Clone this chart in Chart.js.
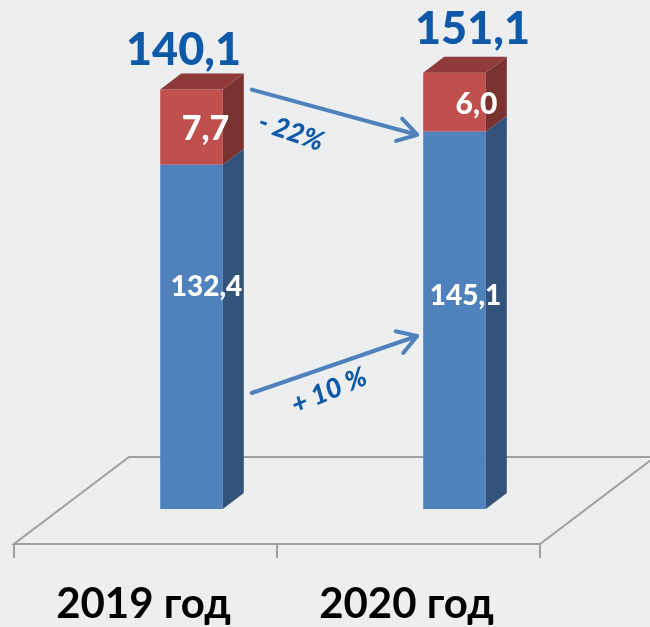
<!DOCTYPE html>
<html>
<head>
<meta charset="utf-8">
<script src="https://cdn.jsdelivr.net/npm/chart.js@4/dist/chart.umd.min.js"></script>
<style>
  html, body { margin: 0; padding: 0; background: #EDEEF0; }
  #wrap { width: 650px; height: 627px; }
</style>
</head>
<body>
<div id="wrap"><canvas id="c" width="650" height="627"></canvas></div>
<script>
// ---- data ----
const categories = ["2019 год", "2020 год"];
const blueValues = [132.4, 145.1];          // main segment
const redValues = [7.7, 6.0];               // top segment, as labelled
const redDrawnHeights = [28.9, 22.7];       // top segment height as drawn in the reference (not to scale there)
const totalValues = [140.1, 151.1];
const totalLabels = ["140,1", "151,1"];
const blueLabels = ["132,4", "145,1"];
const redLabels = ["7,7", "6,0"];
const changeLabels = ["- 22%", "+ 10 %"];

const FONT = "Lato, 'Open Sans', sans-serif";
const DX = 21, DY = -16;           // 3D depth offset of bars
const FLOOR_DX = 115, FLOOR_DY = -87;

const blueFront = "#4F81BD", blueSide = "#33537B";
const redFront = "#C0504D", redSide = "#7A3230", redTop = "#8E3B39";
const labelBlue = "#0F5AA8";

function poly(ctx, pts, fill) {
  ctx.beginPath();
  ctx.moveTo(pts[0][0], pts[0][1]);
  for (let i = 1; i < pts.length; i++) ctx.lineTo(pts[i][0], pts[i][1]);
  ctx.closePath();
  ctx.fillStyle = fill;
  ctx.fill();
}

function arrow(ctx, x1, y1, x2, y2) {
  ctx.save();
  ctx.strokeStyle = "#4F81BD";
  ctx.lineWidth = 4;
  ctx.lineCap = "round";
  ctx.lineJoin = "round";
  ctx.beginPath();
  ctx.moveTo(x1, y1);
  ctx.lineTo(x2, y2);
  const a = Math.atan2(y2 - y1, x2 - x1);
  const L = 22, sp = 0.55;
  ctx.moveTo(x2 - L * Math.cos(a - sp), y2 - L * Math.sin(a - sp));
  ctx.lineTo(x2, y2);
  ctx.lineTo(x2 - L * Math.cos(a + sp), y2 - L * Math.sin(a + sp));
  ctx.stroke();
  ctx.restore();
}

function rotText(ctx, txt, x, y, ang, font, color) {
  ctx.save();
  ctx.translate(x, y);
  ctx.rotate(ang);
  ctx.font = font;
  ctx.fillStyle = color;
  ctx.textAlign = "center";
  ctx.textBaseline = "middle";
  ctx.fillText(txt, 0, 0);
  ctx.restore();
}

const deco = {
  id: "deco",
  beforeDatasetsDraw(chart) {
    const ctx = chart.ctx;
    const xs = chart.scales.x, ys = chart.scales.y;
    const y0 = ys.getPixelForValue(0) + 35;
    const fl = xs.left - 46, fr = xs.right - 46;
    ctx.save();
    ctx.strokeStyle = "#A0A0A0";
    ctx.lineWidth = 2;
    ctx.beginPath();
    ctx.moveTo(fl, y0);
    ctx.lineTo(fr, y0);
    ctx.lineTo(fr + FLOOR_DX, y0 + FLOOR_DY);
    ctx.lineTo(fl + FLOOR_DX, y0 + FLOOR_DY);
    ctx.closePath();
    ctx.stroke();
    // ticks
    const mid = (fl + fr) / 2;
    [fl, mid, fr].forEach(x => {
      ctx.beginPath();
      ctx.moveTo(x, y0);
      ctx.lineTo(x, y0 + 14);
      ctx.stroke();
    });
    // category labels
    ctx.fillStyle = "#000";
    ctx.font = "bold 42px " + FONT;
    ctx.textAlign = "center";
    ctx.textBaseline = "alphabetic";
    categories.forEach((c, i) => {
      ctx.fillText(c, xs.getPixelForValue(i) - 48, y0 + 74);
    });
    ctx.restore();
  },
  afterDatasetsDraw(chart) {
    const ctx = chart.ctx;
    const mb = chart.getDatasetMeta(0).data;
    const mr = chart.getDatasetMeta(1).data;
    ctx.save();
    for (let i = 0; i < mb.length; i++) {
      const b = mb[i], r = mr[i];
      const bw = b.width;
      const L = b.x - bw / 2, R = b.x + bw / 2;
      // blue side
      poly(ctx, [[R, b.base], [R + DX, b.base + DY], [R + DX, b.y + DY], [R, b.y]], blueSide);
      // red side
      poly(ctx, [[R, r.base], [R + DX, r.base + DY], [R + DX, r.y + DY], [R, r.y]], redSide);
      // red top
      poly(ctx, [[L, r.y], [L + DX, r.y + DY], [R + DX, r.y + DY], [R, r.y]], redTop);
    }
    // labels
    ctx.textAlign = "center";
    ctx.textBaseline = "alphabetic";
    const totOff = [[-8, -9], [18, -13]];
    const redOff = [[14, 0], [22, 0]];
    const redFont = [34, 30];
    const blueOff = [[15, -50], [11, -24]];
    for (let i = 0; i < mb.length; i++) {
      const b = mb[i], r = mr[i];
      ctx.fillStyle = labelBlue;
      ctx.font = "900 45px " + FONT;
      ctx.fillText(totalLabels[i], r.x + totOff[i][0], r.y + DY + totOff[i][1]);
      ctx.fillStyle = "#fff";
      ctx.font = "900 " + redFont[i] + "px " + FONT;
      ctx.textBaseline = "middle";
      ctx.fillText(redLabels[i], r.x + redOff[i][0], (r.y + r.base) / 2 + 2);
      ctx.font = "900 28px " + FONT;
      ctx.fillText(blueLabels[i], b.x + blueOff[i][0], (b.y + b.base) / 2 + blueOff[i][1]);
      ctx.textBaseline = "alphabetic";
    }
    // arrows between bars
    const b0 = mb[0], b1 = mb[1], r0 = mr[0];
    const x1 = b0.x + b0.width / 2 + DX + 8;
    const x2 = b1.x - b1.width / 2 - 6;
    arrow(ctx, x1, r0.y, x2, b1.y + 3);
    arrow(ctx, x1, 393, x2, 336);
    rotText(ctx, changeLabels[0], 291, 132, 0.33, "italic 900 27px " + FONT, labelBlue);
    rotText(ctx, changeLabels[1], 329, 391, -0.40, "italic 900 27px " + FONT, labelBlue);
    ctx.restore();
  }
};

new Chart(document.getElementById("c"), {
  type: "bar",
  data: {
    labels: categories,
    datasets: [
      { label: "blue", data: blueValues, backgroundColor: blueFront, borderWidth: 0 },
      { label: "red", data: redDrawnHeights, backgroundColor: redFront, borderWidth: 0 }
    ]
  },
  options: {
    responsive: false,
    animation: false,
    events: [],
    layout: { padding: { left: 60, right: 64, top: 15, bottom: 118 } },
    plugins: { legend: { display: false }, tooltip: { enabled: false } },
    datasets: { bar: { categoryPercentage: 1, barPercentage: 0.238 } },
    scales: {
      x: { stacked: true, display: false, offset: true },
      y: { stacked: true, display: false, min: 0, max: 190 }
    }
  },
  plugins: [deco]
});
</script>
</body>
</html>
